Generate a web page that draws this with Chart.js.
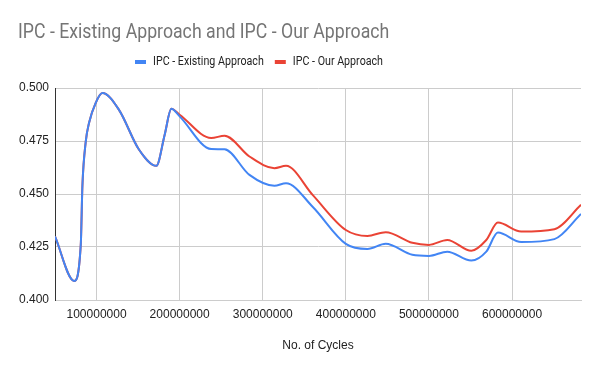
<!DOCTYPE html>
<html>
<head>
<meta charset="utf-8">
<script src="https://cdn.jsdelivr.net/npm/chart.js@4.4.1/dist/chart.umd.min.js"></script>
<style>
    html, body { margin: 0; padding: 0; background: #fff; }
    #wrap { width: 600px; height: 371px; }
</style>
</head>
<body>
<div id="wrap"><canvas id="ipcChart" width="600" height="371"></canvas></div>
<script>
const cycles = [50e6, 73e6, 81e6, 83e6, 87e6, 91e6, 99e6, 107e6, 127e6, 151e6, 172e6, 182e6, 190e6,
    200e6, 238e6, 254e6, 284e6, 314e6, 328e6, 360e6, 400e6, 426e6, 448e6, 480e6, 500e6,
    522e6, 551e6, 569e6, 583e6, 611e6, 651e6, 683e6];
const ipcExisting = [0.430, 0.409, 0.426, 0.454, 0.4747, 0.4836, 0.493, 0.4976, 0.4897, 0.471, 0.4633, 0.478, 0.4902,
    0.4866, 0.4712, 0.4711, 0.459, 0.4539, 0.4551, 0.444, 0.4265, 0.4241, 0.4265, 0.4213, 0.4208,
    0.4228, 0.4186, 0.4228, 0.4318, 0.4273, 0.4287, 0.4406];
const ipcOurs = [0.430, 0.409, 0.426, 0.454, 0.4747, 0.4836, 0.493, 0.4976, 0.4897, 0.471, 0.4633, 0.478, 0.4902,
    0.4874, 0.4764, 0.4775, 0.4677, 0.4622, 0.4633, 0.4496, 0.433, 0.4302, 0.432, 0.427, 0.426,
    0.4283, 0.4232, 0.4283, 0.4365, 0.4323, 0.4334, 0.4449];
const xTicks = [100e6, 200e6, 300e6, 400e6, 500e6, 600e6];
const seriesNames = ['IPC - Existing Approach', 'IPC - Our Approach'];
const seriesColors = ['#4285f4', '#ea4335'];
const chartTitle = 'IPC - Existing Approach and IPC - Our Approach';

const toPoints = (ys) => cycles.map((x, i) => ({ x: x, y: ys[i] }));

// title + legend drawn by hand (the sheet's text is a bit narrower than ours)
const headerPlugin = {
    id: 'header',
    afterDraw(chart) {
        const ctx = chart.ctx;
        ctx.save();
        ctx.fillStyle = '#757575';
        ctx.font = '20px Roboto, Arial, sans-serif';
        ctx.textBaseline = 'alphabetic';
        ctx.textAlign = 'left';
        ctx.translate(18, 38);
        ctx.scale(0.885, 1);
        ctx.fillText(chartTitle, 0, 0);
        ctx.restore();

        ctx.save();
        ctx.font = '12px Roboto, Arial, sans-serif';
        ctx.textBaseline = 'middle';
        const squeeze = 0.89;
        let x = 135;
        seriesNames.forEach((name, i) => {
            ctx.fillStyle = seriesColors[i];
            ctx.fillRect(x, 60, 11, 4);
            ctx.save();
            ctx.translate(x + 18, 62);
            ctx.scale(squeeze, 1);
            ctx.fillStyle = '#222';
            ctx.fillText(name, 0, 0);
            ctx.restore();
            x += 18 + ctx.measureText(name).width * squeeze + 11;
        });
        ctx.restore();
    }
};

new Chart(document.getElementById('ipcChart'), {
    type: 'line',
    data: {
        datasets: [
            {
                label: seriesNames[0],
                data: toPoints(ipcExisting),
                borderColor: seriesColors[0],
                backgroundColor: seriesColors[0],
                borderWidth: 2,
                pointRadius: 0,
                cubicInterpolationMode: 'monotone',
                fill: false
            },
            {
                label: seriesNames[1],
                data: toPoints(ipcOurs),
                borderColor: seriesColors[1],
                backgroundColor: seriesColors[1],
                borderWidth: 2,
                pointRadius: 0,
                cubicInterpolationMode: 'monotone',
                fill: false
            }
        ]
    },
    options: {
        responsive: false,
        animation: false,
        layout: { padding: { top: 88, right: 19, left: 0, bottom: 0 } },
        plugins: {
            legend: { display: false },
            title: { display: false },
            tooltip: { enabled: false }
        },
        scales: {
            x: {
                type: 'linear',
                min: 50e6,
                max: 683e6,
                afterBuildTicks: (scale) => {
                    scale.ticks = xTicks.map(v => ({ value: v }));
                },
                afterFit: (scale) => { scale.height = 71; },
                grid: { color: '#cccccc', drawTicks: false },
                border: { color: '#cccccc' },
                ticks: {
                    color: '#222',
                    padding: 7,
                    maxRotation: 0,
                    font: { size: 12, family: 'Arial, Liberation Sans, sans-serif' },
                    callback: (v) => String(v)
                },
                title: {
                    display: true,
                    text: 'No. of Cycles',
                    color: '#222',
                    font: { size: 12, family: 'Arial, Liberation Sans, sans-serif' },
                    padding: { top: 0, bottom: 18 }
                }
            },
            y: {
                min: 0.4,
                max: 0.5,
                afterFit: (scale) => { scale.width = 55; },
                grid: { color: '#cccccc', drawTicks: false },
                border: { color: '#333333' },
                ticks: {
                    stepSize: 0.025,
                    color: '#222',
                    padding: 6,
                    font: { size: 12, family: 'Arial, Liberation Sans, sans-serif' },
                    callback: (v) => v.toFixed(3)
                }
            }
        }
    },
    plugins: [headerPlugin]
});
</script>
</body>
</html>
